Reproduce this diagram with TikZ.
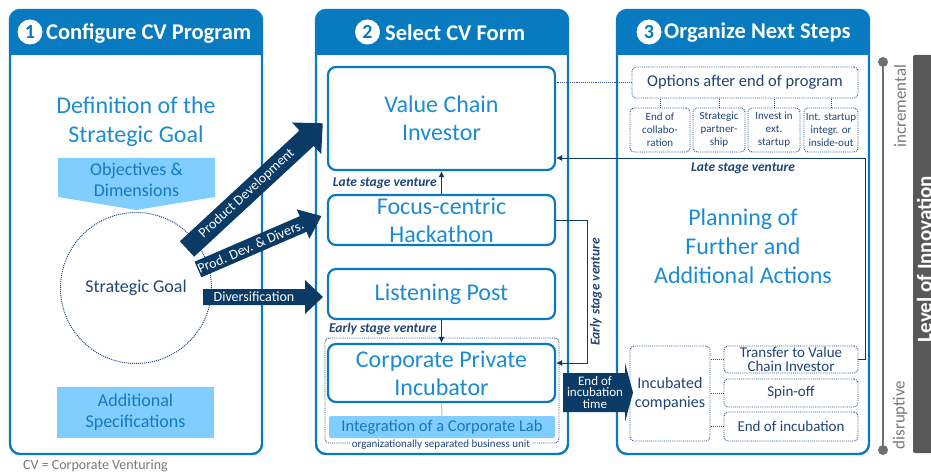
\documentclass[tikz,border=0pt]{standalone}
\usepackage{fontspec}
\setmainfont{Carlito}
\usetikzlibrary{arrows.meta,calc}
\definecolor{hdr}{RGB}{8,122,192}
\definecolor{tblue}{RGB}{28,140,210}
\definecolor{lblue}{RGB}{128,206,255}
\definecolor{lbtext}{RGB}{22,120,190}
\definecolor{navy}{RGB}{10,58,102}
\definecolor{dtext}{RGB}{32,68,118}
\definecolor{dline}{RGB}{40,80,140}
\definecolor{gbar}{RGB}{88,88,88}
\definecolor{gline}{RGB}{110,110,110}
\definecolor{gtext}{RGB}{120,120,120}
\newcommand\fs[2]{\fontsize{#1}{#2}\selectfont}
% #1 name, #2 tail, #3 angle, #4 length, #5 shaft, #6 head width, #7 head length, #8 text options, #9 text
\newcommand\fatarrow[9]{%
  \begin{scope}[shift={#2}, rotate=#3]
    \fill[navy] (0,{-#5/2}) -- ({#4-#7},{-#5/2}) -- ({#4-#7},{-#6/2}) -- (#4,0)
      -- ({#4-#7},{#6/2}) -- ({#4-#7},{#5/2}) -- (0,{#5/2}) -- cycle;
    \node[fattext, rotate=#3, #8] (#1) at ({(#4-#7)/2},0) {#9};
  \end{scope}}
\begin{document}
\begin{tikzpicture}[x=1pt,y=-1pt,
  colframe/.style={draw=hdr, line width=2.4pt, rounded corners=10pt},
  formbox/.style={draw=hdr, line width=2.2pt, rounded corners=8pt, fill=white,
    minimum width=227pt, inner sep=0pt, align=center, text=tblue, font=\fs{24}{28}},
  dotbox/.style={draw=dline, densely dotted, line width=0.9pt, rounded corners=4pt,
    inner sep=0pt, align=center, text=dtext},
  dotline/.style={draw=dline, densely dotted, line width=0.9pt},
  conn/.style={draw=navy, line width=0.9pt, -{Latex[length=6pt,width=6pt]}},
  lbl/.style={font=\bfseries\itshape\fs{13.5}{15}, text=dtext, inner sep=0pt},
  fattext/.style={text=white, font=\fs{14}{16}, inner sep=0pt, align=center},
  numc/.style={circle, fill=white, text=hdr, font=\bfseries\fs{20}{20}, minimum size=25pt, inner sep=0pt},
  ttl/.style={text=white, font=\bfseries\fs{22.5}{24}, anchor=west, inner sep=0pt},
  lbox/.style={fill=lblue, text=lbtext, inner sep=0pt, align=center},
  gtxt/.style={text=gtext, font=\fs{17}{18}, rotate=90, inner sep=0pt},
]
\useasboundingbox (0,0) rectangle (931,473);

% ---------- column frames ----------
\foreach \xa/\xb in {10/262, 316/568, 617/869}{
  \fill[hdr, rounded corners=10pt] (\xa,10) rectangle (\xb,55);
  \fill[hdr] (\xa,40) rectangle (\xb,55);
  \draw[colframe] (\xa,10) rectangle (\xb,454);
}
\node[numc] (n1) at (30,32) {1};
\node[ttl] (t1) at (46,33) {Configure CV Program};
\node[numc] (n2) at (367.5,32) {2};
\node[ttl] (t2) at (385,33) {Select CV Form};
\node[numc] (n3) at (649,32) {3};
\node[ttl] (t3) at (664,33) {Organize Next Steps};

% ---------- column 1 ----------
\node[text=tblue, font=\fs{24}{29}, align=center] (def) at (136,122) {Definition of the\\Strategic Goal};
\fill[lblue] (58,158) -- (215,158) -- (215,197) -- (136.5,210) -- (58,197) -- cycle;
\node[text=lbtext, font=\fs{18}{21}, align=center, inner sep=0pt] (obj) at (136.5,180) {Objectives \&\\Dimensions};
\node[circle, draw=dtext, densely dotted, line width=1pt, minimum size=151pt, inner sep=0pt,
  text=dtext, font=\fs{18}{20}] (sg) at (136,288) {Strategic Goal};
\node[lbox, minimum width=157pt, minimum height=51pt, font=\fs{18}{21}] (add) at (135.5,412.5) {Additional\\Specifications};
\node[anchor=west, text=gtext, font=\fs{14}{15}, inner sep=0pt] (foot) at (23,466) {CV = Corporate Venturing};

% ---------- column 2 ----------
\node[formbox, minimum height=103pt] (vci) at (441.5,118.5) {Value Chain\\Investor};
\node[formbox, minimum height=50pt] (fh) at (441.5,220) {Focus-centric\\Hackathon};
\node[formbox, minimum height=50pt] (lp) at (441.5,294) {Listening Post};
\node[dotbox, minimum width=234pt, minimum height=105pt] (grp) at (442,390.5) {};
\node[formbox, minimum height=58pt] (cpi) at (441.5,373) {Corporate Private\\Incubator};
\node[lbox, minimum width=226pt, minimum height=22pt, rounded corners=2pt, font=\fs{16.5}{18}] (lab) at (442,427) {Integration of a Corporate Lab};
\draw[lblue, line width=1pt] (cpi.south) -- (lab.north);
\node[fill=white, text=dtext, font=\fs{11}{12}, inner sep=1.5pt] (org) at (441,445) {organizationally separated business unit};

\draw[conn] (fh.north) -- (vci.south);
\node[lbl, anchor=east] (lsv1) at (437,183) {Late stage venture};
\draw[conn] (lp.south) -- (cpi.north);
\node[lbl, anchor=east] (esv1) at (437,329) {Early stage venture};

\coordinate (esvc) at (587,363);
\draw[conn] (fh.east) -| (esvc) -- (esvc -| cpi.east);
\node[lbl, rotate=90] (esv2) at (596,292) {Early stage venture};

% ---------- column 3 ----------
\node[dotbox, minimum width=226pt, minimum height=31pt, font=\fs{16.5}{18}] (opt) at (745,82.5) {Options after end of program};
\node[dotbox, minimum width=60pt, minimum height=44pt, font=\fs{11}{13}] (s1) at (660,130) {End of\\collabo-\\ration};
\node[dotbox, minimum width=52pt, minimum height=44pt, font=\fs{11}{13}] (s2) at (719,130) {Strategic\\partner-\\ship};
\node[dotbox, minimum width=52pt, minimum height=44pt, font=\fs{11}{13}] (s3) at (774,130) {Invest in\\ext.\\startup};
\node[dotbox, minimum width=54pt, minimum height=44pt, font=\fs{11}{13}] (s4) at (831,130) {Int. startup\\integr. or\\inside-out};
\foreach \s in {s1,s2,s3,s4}{ \draw[dotline] (\s.north) -- (\s.north |- opt.south); }
\draw[dotline] (opt.west) -- (opt.west -| vci.east);

\node[text=tblue, font=\fs{24}{29}, align=center] (plan) at (743,246) {Planning of\\Further and\\Additional Actions};

\node[dotbox, minimum width=80pt, minimum height=95pt, font=\fs{16}{19}] (inc) at (670,393.5) {Incubated\\companies};
\node[dotbox, minimum width=134pt, minimum height=27pt, font=\fs{15}{14}] (tvc) at (791,359.5) {Transfer to Value\\Chain Investor};
\node[dotbox, minimum width=134pt, minimum height=28pt, font=\fs{15}{16}] (spin) at (791,393) {Spin-off};
\node[dotbox, minimum width=134pt, minimum height=29pt, font=\fs{15}{16}] (eoi) at (791,426.5) {End of incubation};
\foreach \s in {tvc,spin,eoi}{ \draw[dotline] (\s.west) -- (\s.west -| inc.east); }

\coordinate (lsvc) at (865,158);
\draw[conn] (tvc.east) -| (lsvc) -- (lsvc -| vci.east);
\node[lbl] (lsv2) at (743,168) {Late stage venture};

% ---------- fat arrows ----------
\fatarrow{pd}{(187,249)}{42.8}{185}{21}{43}{22}{}{Product Development}
\fatarrow{pdd}{(198,269.5)}{23.4}{134.5}{17}{32}{20}{}{Prod. Dev. \& Divers.}
\fatarrow{dv}{(203,297)}{0}{120}{16}{34}{18}{}{Diversification}
\fatarrow{ei}{(563,392.5)}{0}{70}{39}{59}{8}{font=\fs{13}{11.5}, xshift=1pt}{End of\\incubation\\time}

% ---------- level of innovation ----------
\node[circle, fill=gline, minimum size=10pt, inner sep=0pt] (inct) at (883,62) {};
\node[circle, fill=gline, minimum size=10pt, inner sep=0pt] (incb) at (883,450) {};
\draw[gline, line width=1.3pt] (inct) -- (incb);
\node[gtxt] (incr) at (900,106) {incremental};
\node[gtxt] (disr) at (900,415) {disruptive};
\fill[gbar, rounded corners=2pt] (913,55) rectangle (940,453);
\node[rotate=90, anchor=base, text=white, font=\bfseries\fs{21}{22}, inner sep=0pt] (loi) at (931.5,259) {Level of Innovation};
\end{tikzpicture}
\end{document}
